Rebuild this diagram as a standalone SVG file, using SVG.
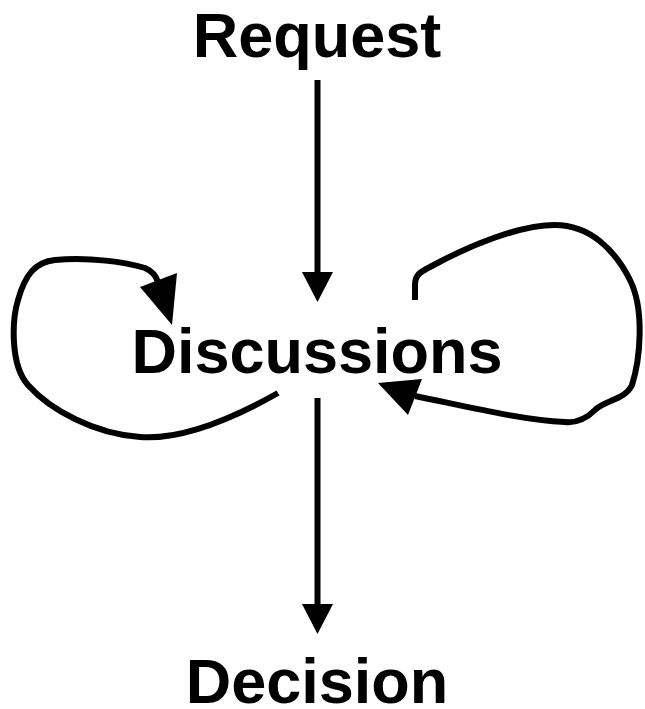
<svg xmlns="http://www.w3.org/2000/svg" width="645" height="709" viewBox="0 0 645 709">
<style>
.lbl{font-family:"Liberation Sans",Arial,sans-serif;font-weight:bold;font-size:63px;fill:#000;text-anchor:middle}
.ln{fill:none;stroke:#000;stroke-width:6;stroke-linecap:butt;stroke-linejoin:round}
.hd{fill:#000;stroke:none}
</style>
<rect width="645" height="709" fill="#fff"/>
<g id="request"><text class="lbl" x="317" y="57">Request</text></g>
<g id="discussions"><text class="lbl" x="317" y="373">Discussions</text></g>
<g id="decision"><text class="lbl" x="317" y="703">Decision</text></g>
<g id="connectors">
<line class="ln" x1="317.5" y1="80" x2="317.5" y2="275"/>
<polygon class="hd" points="302,272 333,272 317.5,302"/>
<line class="ln" x1="317.5" y1="398" x2="317.5" y2="607"/>
<polygon class="hd" points="302,604 333,604 317.5,634"/>
<path class="ln" d="M 278,393 C 230,420 180,440 140,437 C 95,434 50,410 28,385 C 10,365 12,320 18,300 C 25,275 35,262 55,260 C 90,257 125,262 145,268 C 152,271 156,276 158,282"/>
<polygon class="hd" points="140,287 177,273 172,325"/>
<path class="ln" d="M 415,300 L 415,285 C 415,275 420,272 430,267 C 470,245 520,225 555,225 C 590,225 615,250 630,280 C 645,310 640,360 632,385 C 625,400 605,400 595,410 C 585,420 575,423 565,422 C 520,420 460,405 415,396"/>
<polygon class="hd" points="378,383 422,379 408,415"/>
</g>
</svg>
